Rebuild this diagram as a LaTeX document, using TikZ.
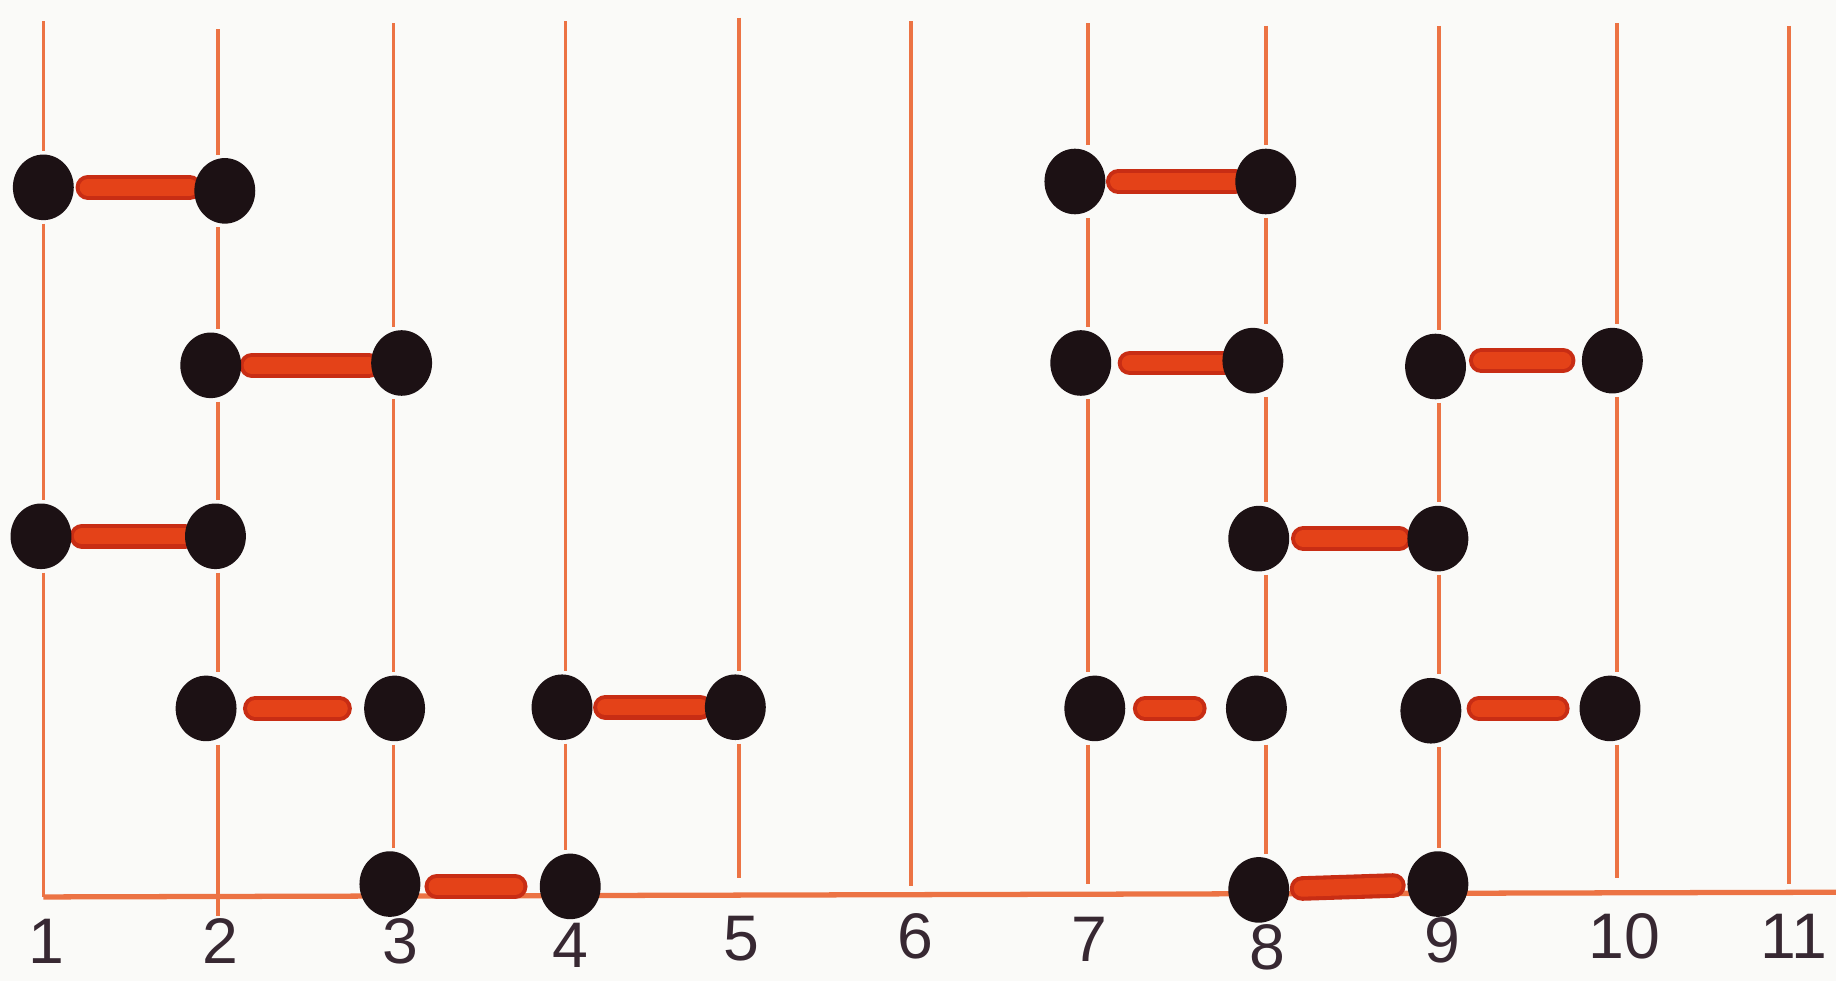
\documentclass[tikz,border=0pt]{standalone}
\usepackage{fontspec}
\setmainfont{Liberation Sans}
\usetikzlibrary{shapes.geometric}
\definecolor{lineor}{RGB}{236,115,68}
\definecolor{barout}{RGB}{200,45,20}
\definecolor{barin}{RGB}{228,66,24}
\definecolor{dotblk}{RGB}{28,17,20}
\definecolor{numcol}{RGB}{55,40,50}
\definecolor{paper}{RGB}{250,250,248}
\pgfdeclarelayer{background}
\pgfsetlayers{background,main}
\begin{document}
\begin{tikzpicture}[x=1pt,y=-1pt,
  vline/.style={draw=lineor, line width=3pt},
  vtop/.style={vline, shorten >=31pt},
  vmid/.style={vline, shorten <=31pt, shorten >=31pt},
  vbot/.style={vline, shorten <=31pt},
  baseln/.style={draw=lineor, line width=4.5pt},
  bar/.style={draw=barin, line width=14pt, line cap=round,
    preaction={draw=barout, line width=21pt, line cap=round}},
  dot/.style={ellipse, fill=dotblk, minimum width=52pt, minimum height=56pt, inner sep=0pt, outer sep=0pt},
  num/.style={font=\fontsize{55}{55}\selectfont, text=numcol, inner sep=0pt}]

\useasboundingbox (0,0) rectangle (1568,838);

% line tops and bottoms
\coordinate (t1) at (37,18);   \coordinate (b1) at (37,766);
\coordinate (t2) at (186,25);  \coordinate (b2) at (186,782);
\coordinate (t3) at (336,20);
\coordinate (t4) at (483,18);
\coordinate (t5) at (631,15);  \coordinate (b5) at (631,750);
\coordinate (t6) at (778,18);  \coordinate (b6) at (778,757);
\coordinate (t7) at (929,20);  \coordinate (b7) at (929,755);
\coordinate (t8) at (1081,22);
\coordinate (t9) at (1229,22);
\coordinate (t10) at (1381,20); \coordinate (b10) at (1381,750);
\coordinate (t11) at (1528,22); \coordinate (b11) at (1528,755);
\coordinate (bend) at (1568,762);

% dots
\node[dot] (r1c1) at (37,160) {};
\node[dot] (r1c2) at (192,163) {};
\node[dot] (r1c7) at (918,155) {};
\node[dot] (r1c8) at (1081,155) {};
\node[dot] (r2c2) at (180,312) {};
\node[dot] (r2c3) at (343,310) {};
\node[dot] (r2c7) at (923,310) {};
\node[dot] (r2c8) at (1070,308) {};
\node[dot] (r2c9) at (1226,313) {};
\node[dot] (r2c10) at (1377,308) {};
\node[dot] (r3c1) at (35,458) {};
\node[dot] (r3c2) at (184,458) {};
\node[dot] (r3c8) at (1075,460) {};
\node[dot] (r3c9) at (1228,460) {};
\node[dot] (r4c2) at (176,605) {};
\node[dot] (r4c3) at (337,605) {};
\node[dot] (r4c4) at (480,604) {};
\node[dot] (r4c5) at (628,604) {};
\node[dot] (r4c7) at (935,605) {};
\node[dot] (r4c8) at (1073,605) {};
\node[dot] (r4c9) at (1222,607) {};
\node[dot] (r4c10) at (1375,605) {};
\node[dot] (r5c3) at (333,755) {};
\node[dot] (r5c4) at (487,757) {};
\node[dot] (r5c8) at (1075,760) {};
\node[dot] (r5c9) at (1228,755) {};

\begin{pgfonlayer}{background}
\fill[paper] (0,0) rectangle (1568,838);
% baseline
\draw[baseln] (b1) -- (bend);
% column 1
\draw[vtop] (t1) -- (t1 |- r1c1);
\draw[vmid] (t1 |- r1c1) -- (t1 |- r3c1);
\draw[vbot] (t1 |- r3c1) -- (b1);
% column 2
\draw[vtop] (t2) -- (t2 |- r1c2);
\draw[vmid] (t2 |- r1c2) -- (t2 |- r2c2);
\draw[vmid] (t2 |- r2c2) -- (t2 |- r3c2);
\draw[vmid] (t2 |- r3c2) -- (t2 |- r4c2);
\draw[vbot] (t2 |- r4c2) -- (b2);
% column 3
\draw[vtop] (t3) -- (t3 |- r2c3);
\draw[vmid] (t3 |- r2c3) -- (t3 |- r4c3);
\draw[vmid] (t3 |- r4c3) -- (t3 |- r5c3);
% column 4
\draw[vtop] (t4) -- (t4 |- r4c4);
\draw[vmid] (t4 |- r4c4) -- (t4 |- r5c4);
% column 5
\draw[vtop] (t5) -- (t5 |- r4c5);
\draw[vbot] (t5 |- r4c5) -- (b5);
% column 6
\draw[vline] (t6) -- (b6);
% column 7
\draw[vtop] (t7) -- (t7 |- r1c7);
\draw[vmid] (t7 |- r1c7) -- (t7 |- r2c7);
\draw[vmid] (t7 |- r2c7) -- (t7 |- r4c7);
\draw[vbot] (t7 |- r4c7) -- (b7);
% column 8
\draw[vtop] (t8) -- (t8 |- r1c8);
\draw[vmid] (t8 |- r1c8) -- (t8 |- r2c8);
\draw[vmid] (t8 |- r2c8) -- (t8 |- r3c8);
\draw[vmid] (t8 |- r3c8) -- (t8 |- r4c8);
\draw[vmid] (t8 |- r4c8) -- (t8 |- r5c8);
% column 9
\draw[vtop] (t9) -- (t9 |- r2c9);
\draw[vmid] (t9 |- r2c9) -- (t9 |- r3c9);
\draw[vmid] (t9 |- r3c9) -- (t9 |- r4c9);
\draw[vmid] (t9 |- r4c9) -- (t9 |- r5c9);
% column 10
\draw[vtop] (t10) -- (t10 |- r2c10);
\draw[vmid] (t10 |- r2c10) -- (t10 |- r4c10);
\draw[vbot] (t10 |- r4c10) -- (b10);
% column 11
\draw[vline] (t11) -- (b11);

% bars (horizontal rungs)
\draw[bar, shorten <=12pt, shorten >=30pt] (r1c1) -- (r1c1 -| r1c2);
\draw[bar, shorten <=11pt, shorten >=26pt] (r1c7) -- (r1c7 -| r1c8);
\draw[bar, shorten <=9pt,  shorten >=28pt] (r2c2) -- (r2c2 -| r2c3);
\draw[bar, shorten <=16pt, shorten >=25pt] (r2c7) -- (r2c7 -| r2c8);
\draw[bar, shorten <=39pt, shorten >=16pt] (r2c10 -| r2c9) -- (r2c10);
\draw[bar, shorten <=9pt,  shorten >=26pt] (r3c1) -- (r3c1 -| r3c2);
\draw[bar, shorten <=12pt, shorten >=33pt] (r3c8) -- (r3c8 -| r3c9);
\draw[bar, shorten <=16pt, shorten >=47pt] (r4c2) -- (r4c2 -| r4c3);
\draw[bar, shorten <=11pt, shorten >=30pt] (r4c4) -- (r4c4 -| r4c5);
\draw[bar, shorten <=17pt, shorten >=53pt] (r4c7) -- (r4c7 -| r4c8);
\draw[bar, shorten <=41pt, shorten >=19pt] (r4c10 -| r4c9) -- (r4c10);
\draw[bar, shorten <=40pt, shorten >=21pt] (r5c4 -| r5c3) -- (r5c4);
\draw[bar, shorten <=11pt, shorten >=12pt] (r5c8) -- (r5c9);
\end{pgfonlayer}

% numbers
\node[num] (n1) at (40,804) {1};
\node[num] (n2) at (188,804) {2};
\node[num] (n3) at (342,804) {3};
\node[num] (n4) at (487,807) {4};
\node[num] (n5) at (633,802) {5};
\node[num] (n6) at (782,800) {6};
\node[num] (n7) at (930,802) {7};
\node[num] (n8) at (1082,809) {8};
\node[num] (n9) at (1232,803) {9};
\node[num] (n10) at (1387,800) {10};
\node[num] (n11) at (1532,800) {11};
\end{tikzpicture}
\end{document}
